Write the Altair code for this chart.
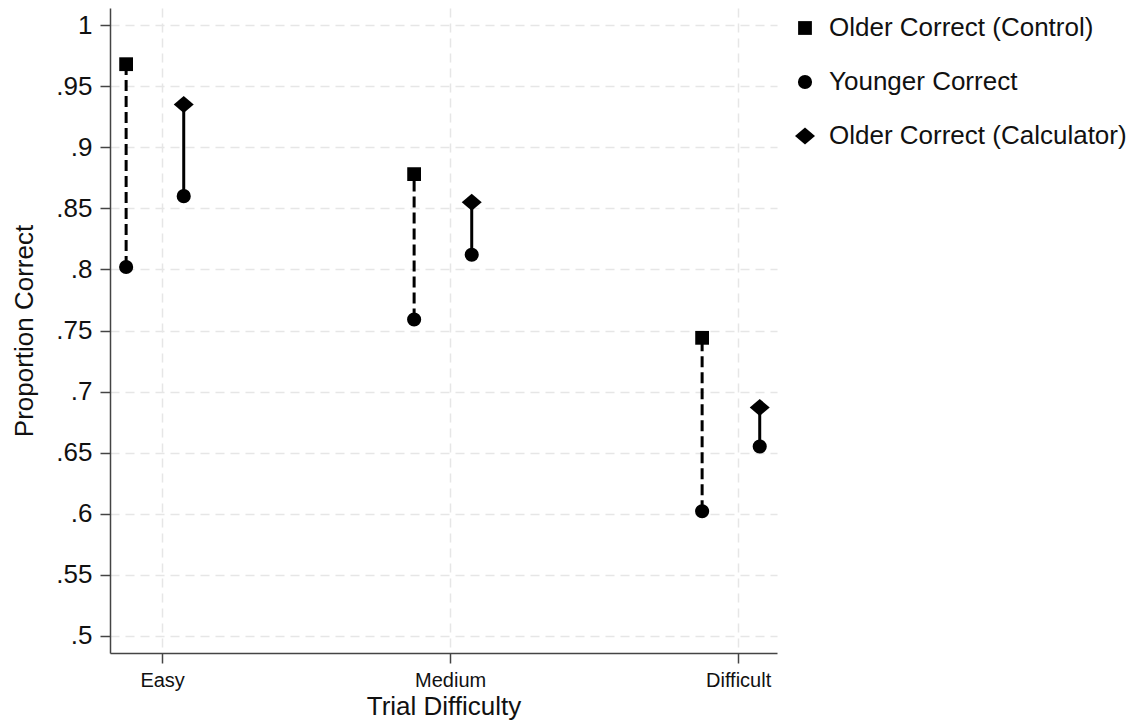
import altair as alt
import pandas as pd

categories = ["Easy", "Medium", "Difficult"]
cat_pos = [1, 2, 3]
older_control = [0.968, 0.878, 0.744]
younger_control = [0.802, 0.759, 0.602]
older_calc = [0.935, 0.855, 0.687]
younger_calc = [0.860, 0.812, 0.655]

series_names = ["Older Correct (Control)", "Younger Correct", "Older Correct (Calculator)"]
y_ticks = [0.5, 0.55, 0.6, 0.65, 0.7, 0.75, 0.8, 0.85, 0.9, 0.95, 1.0]

OFF_CTRL = -0.125
OFF_CALC = 0.075
DIAMOND = "M0,-0.85L1,0L0,0.85L-1,0Z"

rules = []
points = []
for i, c in enumerate(categories):
    xc = cat_pos[i] + OFF_CTRL
    xk = cat_pos[i] + OFF_CALC
    rules.append({"x": xc, "lo": younger_control[i], "hi": older_control[i], "cond": "Control"})
    rules.append({"x": xk, "lo": younger_calc[i], "hi": older_calc[i], "cond": "Calculator"})
    points.append({"x": xc, "y": older_control[i], "series": series_names[0]})
    points.append({"x": xc, "y": younger_control[i], "series": series_names[1]})
    points.append({"x": xk, "y": younger_calc[i], "series": series_names[1]})
    points.append({"x": xk, "y": older_calc[i], "series": series_names[2]})

rules_df = pd.DataFrame(rules)
points_df = pd.DataFrame(points)

label_expr = "datum.value == 1 ? 'Easy' : datum.value == 2 ? 'Medium' : datum.value == 3 ? 'Difficult' : ''"

x_enc = alt.X(
    "x:Q",
    scale=alt.Scale(domain=[0.819, 3.135], nice=False, zero=False),
    axis=alt.Axis(
        values=cat_pos,
        labelExpr=label_expr,
        title="Trial Difficulty",
        labelFontSize=20,
        titleFontSize=26,
        titleFontWeight="normal",
        titlePadding=3,
        labelPadding=7,
        tickSize=10,
    ),
)
y_scale = alt.Scale(domain=[0.486, 1.014], nice=False, zero=False)
y_axis = alt.Axis(
    values=y_ticks,
    labelExpr="replace(format(datum.value, '.2~f'), '0.', '.')",
    title="Proportion Correct",
    labelFontSize=26,
    titleFontSize=26,
    titleFontWeight="normal",
    titlePadding=18,
    labelPadding=8,
    tickSize=10,
)

base_rules = alt.Chart(rules_df)
rule_ctrl = base_rules.transform_filter(alt.datum.cond == "Control").mark_rule(
    color="black", strokeWidth=3, strokeDash=[11, 5]
).encode(x=x_enc, y=alt.Y("lo:Q", scale=y_scale, axis=y_axis), y2="hi:Q")
rule_calc = base_rules.transform_filter(alt.datum.cond == "Calculator").mark_rule(
    color="black", strokeWidth=3
).encode(x=x_enc, y=alt.Y("lo:Q", scale=y_scale, axis=y_axis), y2="hi:Q")

pts = alt.Chart(points_df).mark_point(filled=True, color="black", opacity=1).encode(
    x=x_enc,
    y=alt.Y("y:Q", scale=y_scale, axis=y_axis),
    shape=alt.Shape(
        "series:N",
        scale=alt.Scale(domain=series_names, range=["square", "circle", DIAMOND]),
        legend=alt.Legend(
            title=None,
            orient="none",
            legendX=682,
            legendY=7,
            labelFontSize=26,
            labelOffset=11,
            labelLimit=0,
            rowPadding=28,
            symbolFillColor="black",
            symbolStrokeColor="black",
            labelColor="#111111",
        ),
    ),
    size=alt.Size(
        "series:N",
        scale=alt.Scale(type="ordinal", domain=series_names, range=[190, 200, 400]),
        legend=alt.Legend(title=None),
    ),
)

chart = (
    alt.layer(rule_ctrl, rule_calc, pts)
    .properties(
        width=667,
        height=645,
        autosize=alt.AutoSizeParams(type="none"),
        padding={"left": 102, "top": 0, "right": 352, "bottom": 67},
    )
    .configure(font="Liberation Sans")
    .configure_view(stroke=None)
    .configure_axis(
        grid=True,
        gridColor="#e6e6e6",
        gridDash=[9, 6],
        gridWidth=1.5,
        domainColor="#444444",
        domainWidth=1.5,
        tickColor="#444444",
        tickWidth=1.5,
        labelColor="#111111",
        titleColor="#111111",
    )
)

chart.save("out.html", embed_options={"renderer": "svg", "actions": False})
